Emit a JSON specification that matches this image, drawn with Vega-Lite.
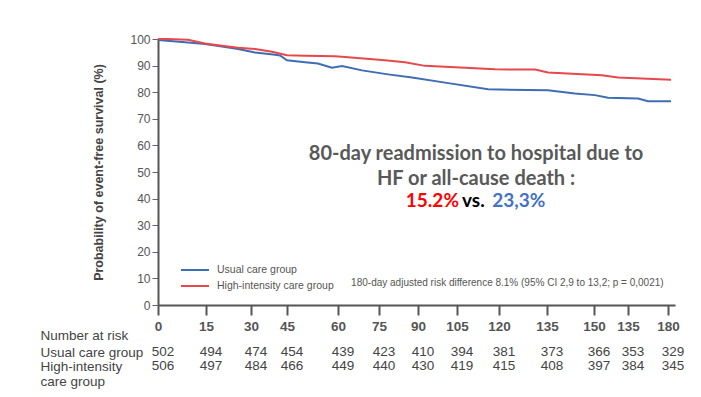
{
  "$schema": "https://vega.github.io/schema/vega-lite/v6.json",
  "padding": {"left": 40, "top": 33, "right": 10, "bottom": 5},
  "background": "white",
  "config": {
    "view": {"stroke": null},
    "font": "Liberation Sans",
    "axisY": {
      "titleFontSize": 12.5, "titleColor": "#444", "titleFontWeight": "bold", "titlePadding": 24,
      "tickSize": 6, "tickColor": "#666", "domainColor": "#555", "domainWidth": 2,
      "labelFontSize": 12, "labelColor": "#555", "labelPadding": 2, "grid": false, "labelOverlap": false
    },
    "axisX": {
      "tickSize": 10, "tickWidth": 2, "tickColor": "#555", "domainColor": "#555", "domainWidth": 2,
      "labelFontSize": 13.5, "labelFontWeight": "bold", "labelColor": "#555", "labelPadding": 4,
      "grid": false, "labelFlush": false, "labelOverlap": false
    }
  },
  "spacing": 3,
  "datasets": {
    "surv": [
      {"day": 0, "group": "Usual care group", "surv": 99.6},
      {"day": 9.4, "group": "Usual care group", "surv": 98.7},
      {"day": 14.7, "group": "Usual care group", "surv": 98.1},
      {"day": 20.3, "group": "Usual care group", "surv": 97.2},
      {"day": 25.7, "group": "Usual care group", "surv": 96.2},
      {"day": 31.7, "group": "Usual care group", "surv": 94.9},
      {"day": 39.2, "group": "Usual care group", "surv": 94.2},
      {"day": 42.1, "group": "Usual care group", "surv": 93.8},
      {"day": 45, "group": "Usual care group", "surv": 92.0},
      {"day": 50.3, "group": "Usual care group", "surv": 91.3},
      {"day": 54.1, "group": "Usual care group", "surv": 90.8},
      {"day": 58.2, "group": "Usual care group", "surv": 89.2},
      {"day": 61.5, "group": "Usual care group", "surv": 89.8},
      {"day": 68.8, "group": "Usual care group", "surv": 88.2},
      {"day": 78.5, "group": "Usual care group", "surv": 86.7},
      {"day": 87.7, "group": "Usual care group", "surv": 85.5},
      {"day": 100.4, "group": "Usual care group", "surv": 83.6},
      {"day": 116.1, "group": "Usual care group", "surv": 81.1},
      {"day": 135.3, "group": "Usual care group", "surv": 80.7},
      {"day": 143.9, "group": "Usual care group", "surv": 79.5},
      {"day": 150.4, "group": "Usual care group", "surv": 78.9},
      {"day": 156.2, "group": "Usual care group", "surv": 77.9},
      {"day": 168.8, "group": "Usual care group", "surv": 77.6},
      {"day": 172.5, "group": "Usual care group", "surv": 76.6},
      {"day": 181.3, "group": "Usual care group", "surv": 76.6},
      {"day": 0, "group": "High-intensity care group", "surv": 100},
      {"day": 2.8, "group": "High-intensity care group", "surv": 100},
      {"day": 9.4, "group": "High-intensity care group", "surv": 99.7},
      {"day": 14.7, "group": "High-intensity care group", "surv": 98.3},
      {"day": 20.3, "group": "High-intensity care group", "surv": 97.5},
      {"day": 25.7, "group": "High-intensity care group", "surv": 96.7},
      {"day": 31.7, "group": "High-intensity care group", "surv": 96.2},
      {"day": 38.8, "group": "High-intensity care group", "surv": 95.2},
      {"day": 45, "group": "High-intensity care group", "surv": 93.9},
      {"day": 50.3, "group": "High-intensity care group", "surv": 93.7},
      {"day": 59.1, "group": "High-intensity care group", "surv": 93.5},
      {"day": 62.6, "group": "High-intensity care group", "surv": 93.2},
      {"day": 77.3, "group": "High-intensity care group", "surv": 92.0},
      {"day": 85, "group": "High-intensity care group", "surv": 91.3},
      {"day": 92.7, "group": "High-intensity care group", "surv": 89.9},
      {"day": 106.1, "group": "High-intensity care group", "surv": 89.3},
      {"day": 118.6, "group": "High-intensity care group", "surv": 88.6},
      {"day": 131.3, "group": "High-intensity care group", "surv": 88.5},
      {"day": 135.3, "group": "High-intensity care group", "surv": 87.4},
      {"day": 153.5, "group": "High-intensity care group", "surv": 86.4},
      {"day": 160.6, "group": "High-intensity care group", "surv": 85.5},
      {"day": 181.3, "group": "High-intensity care group", "surv": 84.7}
    ],
    "risk": [
      {"day": 0, "group": "Usual care group", "n": 502},
      {"day": 15, "group": "Usual care group", "n": 494},
      {"day": 30, "group": "Usual care group", "n": 474},
      {"day": 45, "group": "Usual care group", "n": 454},
      {"day": 60, "group": "Usual care group", "n": 439},
      {"day": 75, "group": "Usual care group", "n": 423},
      {"day": 90, "group": "Usual care group", "n": 410},
      {"day": 105, "group": "Usual care group", "n": 394},
      {"day": 120, "group": "Usual care group", "n": 381},
      {"day": 135, "group": "Usual care group", "n": 373},
      {"day": 150, "group": "Usual care group", "n": 366},
      {"day": 165, "group": "Usual care group", "n": 353},
      {"day": 180, "group": "Usual care group", "n": 329},
      {"day": 0, "group": "High-intensity care group", "n": 506},
      {"day": 15, "group": "High-intensity care group", "n": 497},
      {"day": 30, "group": "High-intensity care group", "n": 484},
      {"day": 45, "group": "High-intensity care group", "n": 466},
      {"day": 60, "group": "High-intensity care group", "n": 449},
      {"day": 75, "group": "High-intensity care group", "n": 440},
      {"day": 90, "group": "High-intensity care group", "n": 430},
      {"day": 105, "group": "High-intensity care group", "n": 419},
      {"day": 120, "group": "High-intensity care group", "n": 415},
      {"day": 135, "group": "High-intensity care group", "n": 408},
      {"day": 150, "group": "High-intensity care group", "n": 397},
      {"day": 165, "group": "High-intensity care group", "n": 384},
      {"day": 180, "group": "High-intensity care group", "n": 345}
    ]
  },
  "vconcat": [
    {
      "width": 517,
      "height": 266,
      "layer": [
        {
          "data": {"name": "surv"},
          "mark": {"type": "line", "strokeWidth": 2},
          "encoding": {
            "x": {
              "field": "day", "type": "quantitative",
              "scale": {"domain": [0, 15, 30, 45, 60, 75, 90, 105, 120, 135, 150, 165, 180, 183], "range": [0, 48, 93, 129, 180, 221, 260, 299, 341, 389, 436, 470, 510, 517], "nice": false, "zero": false},
              "axis": {
                "values": [0, 15, 30, 45, 60, 75, 90, 105, 120, 135, 150, 165, 180],
                "labelExpr": "datum.value == 165 ? '135' : datum.label",
                "title": "Number at risk", "titleX": -118, "titleY": 30, "titleAlign": "left", "titleBaseline": "middle",
                "titleFontWeight": "normal", "titleFontSize": 13.5, "titleColor": "#444"
              }
            },
            "y": {
              "field": "surv", "type": "quantitative",
              "scale": {"domain": [0, 100], "nice": false},
              "axis": {
                "values": [0, 10, 20, 30, 40, 50, 60, 70, 80, 90, 100], "tickCount": 11,
                "title": "Probability of event-free survival (%)"
              }
            },
            "color": {
              "field": "group", "type": "nominal",
              "scale": {"domain": ["Usual care group", "High-intensity care group"], "range": ["#3d6db5", "#e8474c"]},
              "legend": {
                "orient": "none", "legendX": 31, "legendY": 225, "title": null,
                "symbolType": "M-2.8,0H2.8", "symbolSize": 100, "symbolStrokeWidth": 2,
                "labelFontSize": 10.5, "labelColor": "#555", "labelOffset": 16, "rowPadding": 4, "padding": 0
              }
            }
          }
        },
        {
          "data": {"values": [{}]},
          "mark": {"type": "text", "align": "left", "baseline": "middle", "fontSize": 10, "color": "#555"},
          "encoding": {
            "x": {"datum": 64.8, "type": "quantitative"},
            "y": {"datum": 8.1, "type": "quantitative", "axis": {"values": [0, 10, 20, 30, 40, 50, 60, 70, 80, 90, 100], "tickCount": 11, "title": "Probability of event-free survival (%)"}},
            "text": {"value": "180-day adjusted risk difference 8.1% (95% CI 2,9 to 13,2; p = 0,0021)"}
          }
        },
        {
          "data": {"values": [{}]},
          "mark": {"type": "text", "align": "center", "baseline": "middle", "fontSize": 20, "font": "Lato", "fontWeight": "bold", "color": "#595959"},
          "encoding": {
            "x": {"datum": 111.8, "type": "quantitative"},
            "y": {"datum": 56.6, "type": "quantitative", "axis": {"values": [0, 10, 20, 30, 40, 50, 60, 70, 80, 90, 100], "tickCount": 11, "title": "Probability of event-free survival (%)"}},
            "text": {"value": "80-day readmission to hospital due to"}
          }
        },
        {
          "data": {"values": [{}]},
          "mark": {"type": "text", "align": "center", "baseline": "middle", "fontSize": 20, "font": "Lato", "fontWeight": "bold", "color": "#595959"},
          "encoding": {
            "x": {"datum": 111.8, "type": "quantitative"},
            "y": {"datum": 47.4, "type": "quantitative", "axis": {"values": [0, 10, 20, 30, 40, 50, 60, 70, 80, 90, 100], "tickCount": 11, "title": "Probability of event-free survival (%)"}},
            "text": {"value": "HF or all-cause death :"}
          }
        },
        {
          "data": {"values": [{}]},
          "mark": {"type": "text", "align": "right", "baseline": "middle", "fontSize": 19, "font": "Lato", "fontWeight": "bold", "color": "#ff0000"},
          "encoding": {
            "x": {"datum": 105.7, "type": "quantitative"},
            "y": {"datum": 39.2, "type": "quantitative", "axis": {"values": [0, 10, 20, 30, 40, 50, 60, 70, 80, 90, 100], "tickCount": 11, "title": "Probability of event-free survival (%)"}},
            "text": {"value": "15.2%"}
          }
        },
        {
          "data": {"values": [{}]},
          "mark": {"type": "text", "align": "left", "baseline": "middle", "fontSize": 19, "font": "Lato", "fontWeight": "bold", "color": "#000000"},
          "encoding": {
            "x": {"datum": 106.8, "type": "quantitative"},
            "y": {"datum": 39.2, "type": "quantitative", "axis": {"values": [0, 10, 20, 30, 40, 50, 60, 70, 80, 90, 100], "tickCount": 11, "title": "Probability of event-free survival (%)"}},
            "text": {"value": "vs."}
          }
        },
        {
          "data": {"values": [{}]},
          "mark": {"type": "text", "align": "left", "baseline": "middle", "fontSize": 19, "font": "Lato", "fontWeight": "bold", "color": "#4472c4"},
          "encoding": {
            "x": {"datum": 117.6, "type": "quantitative"},
            "y": {"datum": 39.2, "type": "quantitative", "axis": {"values": [0, 10, 20, 30, 40, 50, 60, 70, 80, 90, 100], "tickCount": 11, "title": "Probability of event-free survival (%)"}},
            "text": {"value": "23,3%"}
          }
        }
      ]
    },
    {
      "width": 517,
      "height": 14,
      "data": {"name": "risk"},
      "mark": {"type": "text", "baseline": "top", "fontSize": 13.5, "color": "#444", "dx": 5},
      "encoding": {
        "x": {
          "field": "day", "type": "quantitative",
          "scale": {"domain": [0, 15, 30, 45, 60, 75, 90, 105, 120, 135, 150, 165, 180, 183], "range": [0, 48, 93, 129, 180, 221, 260, 299, 341, 389, 436, 470, 510, 517], "nice": false, "zero": false},
          "axis": null
        },
        "y": {
          "field": "group", "type": "nominal",
          "scale": {"type": "point", "domain": ["Usual care group", "High-intensity care group"], "padding": 0},
          "axis": {
            "title": null, "domain": false, "ticks": false, "tickSize": 0,
            "labelAlign": "left", "labelBaseline": "top", "labelPadding": 118, "labelLineHeight": 15,
            "labelFontSize": 13.5, "labelColor": "#444", "labelLimit": 0, "labelFontWeight": "normal",
            "labelExpr": "datum.value == 'High-intensity care group' ? ['High-intensity', 'care group'] : datum.value"
          }
        },
        "text": {"field": "n", "type": "quantitative"}
      }
    }
  ]
}
